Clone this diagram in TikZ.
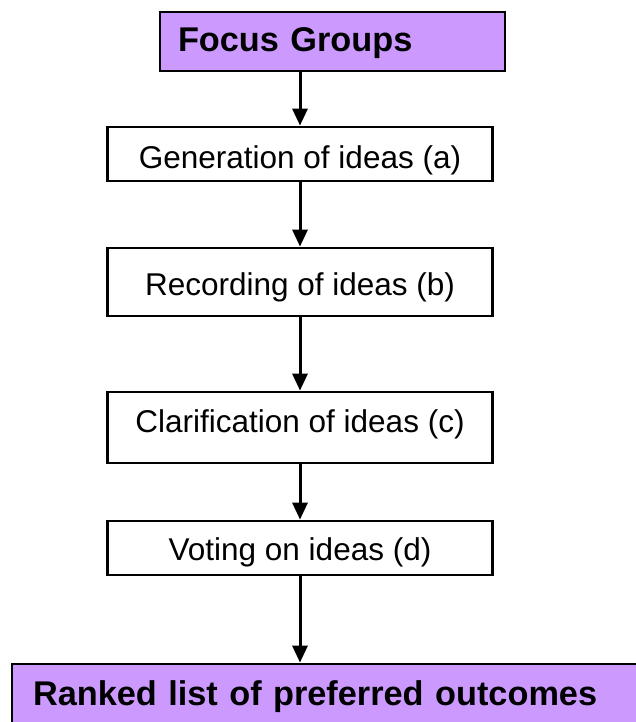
\documentclass[tikz,border=0pt]{standalone}
\usepackage{fontspec}
\setmainfont{Liberation Sans}
\usetikzlibrary{arrows.meta}
\definecolor{lilac}{HTML}{CC99FF}
\begin{document}
\begin{tikzpicture}[x=1pt,y=-1pt,
  stepbox/.style={draw=black, line width=2.8pt, fill=white, minimum width=385pt, inner sep=0pt,
    font=\fontsize{31.5}{36}\selectfont, text depth=0pt},
  headbox/.style={draw=black, line width=2.8pt, fill=lilac, inner ysep=0pt, align=left,
    font=\fontsize{34.3}{40}\selectfont\bfseries, text depth=0pt},
  arr/.style={line width=3pt, -{Triangle[width=15pt,length=17pt]}}]
\useasboundingbox (0,0) rectangle (636,722);
\clip (0,0) rectangle (636,722);

\node[headbox, inner xsep=18pt, text width=309pt, minimum height=59pt, text height=21pt]
  (focus) at (332.5,41.5) {Focus Groups};
\node[stepbox, minimum height=54pt, text height=30pt] (gen) at (300,154) {Generation of ideas (a)};
\node[stepbox, minimum height=68pt, text height=26pt] (rec) at (300,282) {Recording of ideas (b)};
\node[stepbox, minimum height=71pt, text height=9pt] (cla) at (300,427.5) {Clarification of ideas (c)};
\node[stepbox, minimum height=54pt, text height=24pt] (vot) at (300,548) {Voting on ideas (d)};
\node[headbox, inner xsep=21pt, text width=606pt, minimum height=76pt, text height=6pt]
  (rank) at (336,702) {Ranked list of preferred outcomes};

\draw[arr] (gen.north |- focus.south) -- (gen.north);
\draw[arr] (gen.south) -- (rec.north);
\draw[arr] (rec.south) -- (cla.north);
\draw[arr] (cla.south) -- (vot.north);
\draw[arr] (vot.south) -- (vot.south |- rank.north);
\end{tikzpicture}
\end{document}
